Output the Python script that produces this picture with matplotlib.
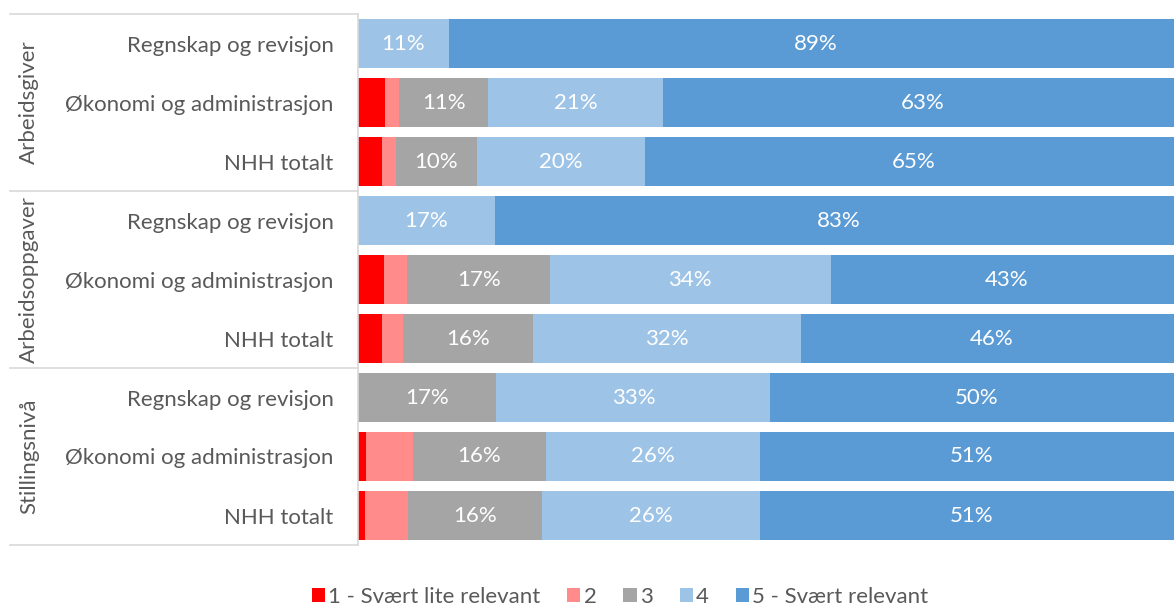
import matplotlib
matplotlib.use("Agg")
import matplotlib.pyplot as plt
from matplotlib.lines import Line2D
from matplotlib.patches import Patch
from matplotlib.transforms import blended_transform_factory
import numpy as np

plt.rcParams['font.family'] = ['Lato', 'DejaVu Sans']

categories = ["Regnskap og revisjon", "Økonomi og administrasjon", "NHH totalt"] * 3
groups = ["Arbeidsgiver", "Arbeidsoppgaver", "Stillingsnivå"]
series_names = ["1 - Svært lite relevant", "2", "3", "4", "5 - Svært relevant"]

s1 = [0.0, 3.3, 3.0, 0.0, 3.2, 2.9, 0.0, 1.0, 0.9]
s2 = [0.0, 1.7, 1.6, 0.0, 2.8, 2.6, 0.0, 5.7, 5.2]
s3 = [0.0, 10.8, 9.8, 0.0, 17.3, 15.8, 16.8, 16.1, 16.2]
s4 = [11.1, 21.2, 20.4, 16.6, 34.0, 32.4, 33.2, 26.0, 26.4]
s5 = [88.9, 63.0, 65.2, 83.4, 42.7, 46.3, 50.0, 51.2, 51.3]

colors = ["#FF0000", "#FF8B8B", "#A5A5A5", "#9DC3E6", "#5B9BD5"]
text_color = "#595959"
line_color = "#D9D9D9"
FS = 16

W, H = 1174, 608
fig = plt.figure(figsize=(W / 100, H / 100), dpi=100)
left_px, right_px, top_px, bot_px = 357.7, 1183, 14, 545
ax = fig.add_axes([left_px / W, 1 - bot_px / H, (right_px - left_px) / W, (bot_px - top_px) / H])

y = np.arange(len(categories))
left = np.zeros(len(categories))
for vals, col in zip([s1, s2, s3, s4, s5], colors):
    vals = np.array(vals)
    ax.barh(y, vals, left=left, height=0.83, color=col, linewidth=0)
    for yi, (l, v) in enumerate(zip(left, vals)):
        if v >= 8:
            ax.text(l + v / 2, yi, f"{round(v):.0f}%", ha="center", va="center",
                    color="white", fontsize=FS)
    left = left + vals

ax.set_xlim(0, 100)
ax.set_ylim(8.5, -0.5)
ax.set_xticks([])
ax.set_yticks(y)
ax.set_yticklabels(categories, fontsize=FS, color=text_color)
ax.tick_params(axis="y", length=0, pad=17.5)
for sp in ["top", "right", "bottom"]:
    ax.spines[sp].set_visible(False)
ax.spines["left"].set_color(line_color)
ax.spines["left"].set_linewidth(1.2)

tr = blended_transform_factory(fig.transFigure, ax.transData)
for yl in [-0.5, 2.5, 5.5, 8.5]:
    fig.add_artist(Line2D([10 / W, left_px / W], [yl, yl], transform=tr,
                          color=line_color, linewidth=1.2, clip_on=False))
for gi, g in enumerate(groups):
    ax.text(29 / W, gi * 3 + 1, g, transform=tr, rotation=90, ha="center", va="center",
            fontsize=FS, color=text_color, clip_on=False)

handles = [Patch(facecolor=c, edgecolor="none") for c in colors]
fig.legend(handles, series_names, loc="center", bbox_to_anchor=(620 / W, 1 - 597 / H),
           ncol=5, frameon=False, fontsize=FS, labelcolor=text_color,
           handlelength=0.6, handleheight=0.6, handletextpad=0.15, columnspacing=1.2)

fig.savefig("out.png", dpi=100)
